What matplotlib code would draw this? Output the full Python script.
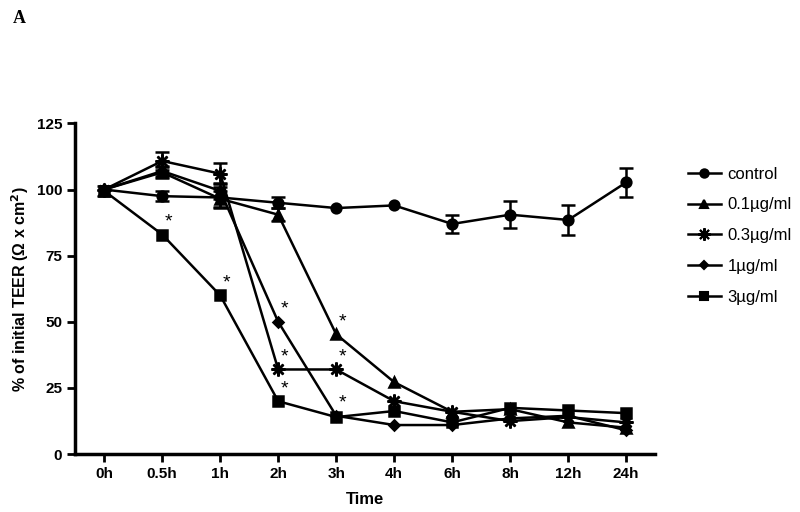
import numpy as np
import matplotlib.pyplot as plt
from matplotlib.lines import Line2D

# time points (categorical)
times = ['0h', '0.5h', '1h', '2h', '3h', '4h', '6h', '8h', '12h', '24h']

nan = np.nan
control = [100, 97.5, 97, 95, 93, 94, 87, 90.5, 88.5, 102.7]
control_err = [nan, 2, 4, 2, nan, nan, 3.5, 5, 5.5, 5.5]
c01 = [100, 106.5, 96.5, 90.5, 45.3, 27.2, 16, 17, 12, 10]
c01_err = [nan, 2, 3, 2.5, nan, nan, nan, nan, nan, nan]
c03 = [100, 110.8, 106, 32, 32, 20, 16, 12.5, 14, 12]
c03_err = [nan, 3.5, 4, nan, nan, nan, nan, nan, nan, nan]
c1 = [100, 107, 99.5, 50, 14.5, 11, 11, 13.5, 14.5, 9]
c1_err = [nan, 2, 3, nan, nan, nan, nan, nan, nan, nan]
c3 = [99.5, 83, 60, 20, 14, 16.3, 12, 17.5, 16.5, 15.5]
c3_err = [2, nan, nan, nan, nan, nan, nan, nan, nan, nan]

# significance stars: (time index, value)
stars = [(1, 83), (2, 60), (3, 50), (3, 32), (3, 20), (4, 45.3), (4, 32), (4, 14.5)]

plt.rcParams['font.family'] = ['Liberation Sans', 'DejaVu Sans']

fig = plt.figure(figsize=(8, 5.12), dpi=100)
ax = fig.add_axes([0.094, 0.113, 0.725, 0.646])

x = np.arange(len(times))
series = [
    (control, control_err, 'o', 7, 'control'),
    (c01, c01_err, '^', 7, '0.1\u00b5g/ml'),
    (c03, c03_err, (8, 2, 0), 10, '0.3\u00b5g/ml'),
    (c1, c1_err, 'D', 5, '1\u00b5g/ml'),
    (c3, c3_err, 's', 7, '3\u00b5g/ml'),
]
handles = []
for vals, err, m, ms, lab in series:
    ax.errorbar(x, vals, yerr=err, color='black', marker=m, markersize=ms,
                markeredgewidth=1.8, linewidth=1.8, capsize=5, elinewidth=1.8,
                capthick=1.8)
    handles.append(Line2D([], [], color='black', marker=m, markersize=ms - 1,
                          markeredgewidth=1.5, linewidth=1.8, label=lab))

for i, v in stars:
    ax.text(i + 0.1, v + 1.5, '*', fontsize=14, ha='center', va='bottom')

ax.set_xlim(-0.5, 9.5)
ax.set_ylim(0, 125)
ax.set_xticks(x)
ax.set_xticklabels(times)
ax.set_yticks([0, 25, 50, 75, 100, 125])
for s in ['top', 'right']:
    ax.spines[s].set_visible(False)
for s in ['left', 'bottom']:
    ax.spines[s].set_linewidth(2.5)
ax.tick_params(width=2, length=6, labelsize=11)
for lbl in ax.get_xticklabels() + ax.get_yticklabels():
    lbl.set_fontweight('bold')

ax.set_xlabel('Time', fontsize=12, fontweight='bold', labelpad=8)
ax.set_ylabel('% of initial TEER (\u03a9 x cm$^{\\mathbf{2}}$)', fontsize=11.5, fontweight='bold')

ax.legend(handles=handles, loc='upper left', bbox_to_anchor=(1.03, 0.915),
          frameon=False, fontsize=12, handlelength=2.0, labelspacing=0.95,
          handletextpad=0.4)

fig.text(0.016, 0.955, 'A', fontsize=13, fontweight='bold', family='Liberation Serif')

fig.savefig('out.png', dpi=100)
